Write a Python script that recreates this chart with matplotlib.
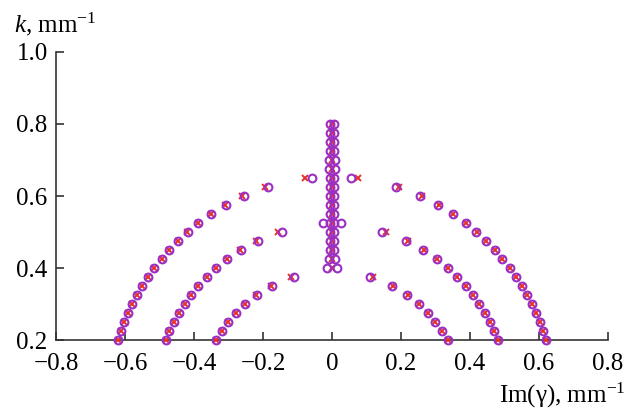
import numpy as np
import matplotlib.pyplot as plt

plt.rcParams['font.family'] = ['Liberation Serif', 'DejaVu Serif']
plt.rcParams['mathtext.fontset'] = 'custom'
plt.rcParams['mathtext.rm'] = 'Liberation Serif'
plt.rcParams['mathtext.it'] = 'Liberation Serif:italic'

# outer arc
k_outer = [0.200, 0.225, 0.250, 0.275, 0.300, 0.325, 0.350, 0.375, 0.400,
           0.425, 0.450, 0.475, 0.500, 0.525, 0.550, 0.575, 0.600, 0.625]
im_outer = [0.620, 0.612, 0.602, 0.591, 0.579, 0.565, 0.550, 0.533, 0.515,
            0.494, 0.472, 0.447, 0.418, 0.387, 0.350, 0.307, 0.255, 0.186]
im_outer_x = [0.620, 0.612, 0.602, 0.591, 0.579, 0.565, 0.550, 0.533, 0.515,
              0.494, 0.472, 0.447, 0.419, 0.388, 0.352, 0.310, 0.262, 0.194]

# middle arc
k_mid = [0.200, 0.225, 0.250, 0.275, 0.300, 0.325, 0.350, 0.375, 0.400,
         0.425, 0.450, 0.475, 0.500]
im_mid = [0.482, 0.471, 0.458, 0.443, 0.427, 0.408, 0.387, 0.363, 0.335,
          0.303, 0.264, 0.214, 0.146]
im_mid_x = [0.482, 0.471, 0.458, 0.443, 0.427, 0.408, 0.387, 0.363, 0.336,
            0.305, 0.267, 0.220, 0.157]

# inner arc
k_in = [0.200, 0.225, 0.250, 0.275, 0.300, 0.325, 0.350, 0.375]
im_in = [0.336, 0.320, 0.300, 0.278, 0.251, 0.217, 0.174, 0.109]
im_in_x = [0.336, 0.320, 0.300, 0.278, 0.252, 0.219, 0.178, 0.120]

# central column (circles come in pairs at +/- spread)
k_c = [0.400, 0.425, 0.450, 0.475, 0.500, 0.525, 0.550, 0.575, 0.600,
       0.625, 0.650, 0.675, 0.700, 0.725, 0.750, 0.775, 0.800]
spread_c = [0.014, 0.008, 0.006, 0.005, 0.005, 0.006, 0.007, 0.007, 0.006,
            0.006, 0.005, 0.009, 0.008, 0.006, 0.006, 0.006, 0.006]

# extra points near the centre
k_extra_o = [0.525, 0.525, 0.650, 0.650]
im_extra_o = [-0.025, 0.025, -0.057, 0.055]
k_extra_x = [0.650, 0.650]
im_extra_x = [-0.077, 0.075]

purple = '#9b2fc4'
red = '#e8302a'

fig = plt.figure(figsize=(6.32, 4.18), dpi=100)
ax = fig.add_axes([0.0886, 0.1866, 0.8734, 0.689])

circ_x, circ_y, cross_x, cross_y = [], [], [], []
for k, a, b in [(k_outer, im_outer, im_outer_x), (k_mid, im_mid, im_mid_x),
                (k_in, im_in, im_in_x)]:
    for kk, aa, bb in zip(k, a, b):
        circ_x += [-aa, aa]
        circ_y += [kk, kk]
        cross_x += [-bb, bb]
        cross_y += [kk, kk]
for kk, s in zip(k_c, spread_c):
    circ_x += [-s, s]
    circ_y += [kk, kk]
    cross_x.append(0.0)
    cross_y.append(kk)
circ_x += im_extra_o
circ_y += k_extra_o
cross_x += im_extra_x
cross_y += k_extra_x

ax.plot(cross_x, cross_y, 'x', color=red, ms=4, mew=1.4, clip_on=False, zorder=3)
ax.plot(circ_x, circ_y, 'o', mfc='none', mec=purple, ms=5.6, mew=1.5,
        clip_on=False, zorder=4)

ax.set_xlim(-0.8, 0.8)
ax.set_ylim(0.2, 1.0)
xt = [-0.8, -0.6, -0.4, -0.2, 0, 0.2, 0.4, 0.6, 0.8]
ax.set_xticks(xt)
ax.set_xticklabels(['\u22120.8', '\u22120.6', '\u22120.4', '\u22120.2', '0',
                    '0.2', '0.4', '0.6', '0.8'])
yt = [0.2, 0.4, 0.6, 0.8, 1.0]
ax.set_yticks(yt)
ax.set_yticklabels(['0.2', '0.4', '0.6', '0.8', '1.0'])
ax.tick_params(direction='in', length=6, width=1.2, labelsize=18,
               color='#333333')
ax.tick_params(axis='x', pad=9)
ax.tick_params(axis='y', pad=6)
for s in ['top', 'right']:
    ax.spines[s].set_visible(False)
for s in ['left', 'bottom']:
    ax.spines[s].set_linewidth(1.2)
    ax.spines[s].set_color('#333333')

fig.text(0.022, 0.975, r'$k$, mm$^{-1}$', fontsize=18, ha='left', va='top')
fig.text(0.99, 0.02, 'Im(\u03b3), mm$^{-1}$', fontsize=18, ha='right',
         va='bottom')

fig.savefig('out.png', dpi=100)
